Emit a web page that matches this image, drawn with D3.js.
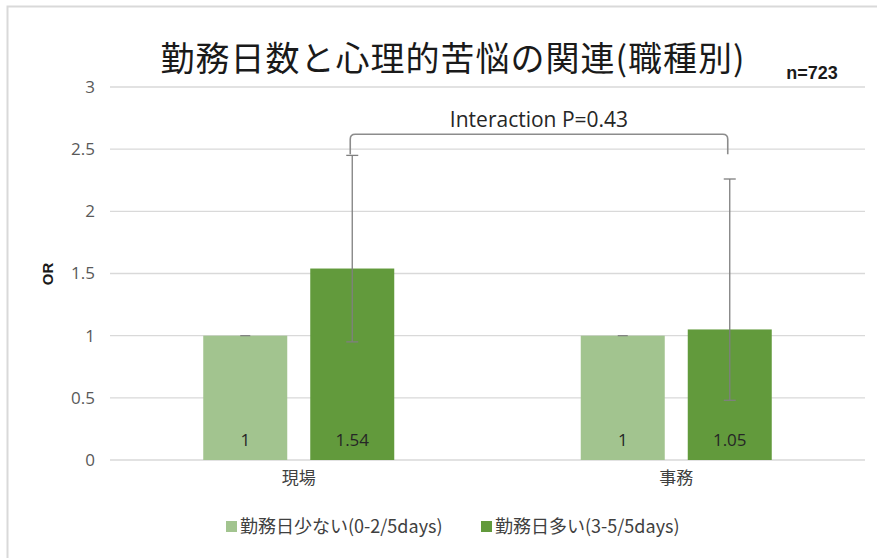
<!DOCTYPE html>
<html>
<head>
<meta charset="utf-8">
<script src="https://cdn.jsdelivr.net/npm/d3@7"></script>
<style>
  body { margin: 0; background: #fff; }
  svg { display: block; font-family: "Noto Sans CJK JP", "Noto Sans", sans-serif; }
</style>
</head>
<body>
<div class="chartShaper"></div>
<script>
// chart data
var categories = ["現場", "事務"];
var seriesNames = ["勤務日少ない(0-2/5days)", "勤務日多い(3-5/5days)"];
var orFew = [1, 1];
var orMany = [1.54, 1.05];
var ciLowMany = [0.95, 0.48];
var ciHighMany = [2.45, 2.26];
var yTicks = [0, 0.5, 1, 1.5, 2, 2.5, 3];
var colors = ["#A2C48F", "#629A3C"];

// graph dimensions
var W = 877, H = 558;
var margin = {top: 87, right: 12, bottom: 98, left: 110},
    width = 865 - margin.left,
    height = 460 - margin.top;

var svg = d3.select(".chartShaper")
            .append("svg")
            .attr("width", W)
            .attr("height", H);

// outer frame
svg.append("rect")
   .attr("x", 7.5).attr("y", 6.5)
   .attr("width", W).attr("height", H)
   .attr("fill", "none")
   .attr("stroke", "#d9d9d9")
   .attr("stroke-width", 2);

var g = svg.append("g").attr("transform", "translate(" + margin.left + "," + margin.top + ")");

// scales
var x0 = d3.scaleBand().domain(categories).range([0, width]);
var y = d3.scaleLinear().domain([0, 3]).range([height, 0]);

// gridlines
g.selectAll(".grid")
 .data(yTicks)
 .enter().append("line")
 .attr("x1", 0).attr("x2", width)
 .attr("y1", function(d) { return y(d); })
 .attr("y2", function(d) { return y(d); })
 .attr("stroke", "#d9d9d9")
 .attr("stroke-width", 1.3);

// y axis labels
var yAxis = d3.axisLeft(y).tickValues(yTicks).tickFormat(function(d) { return String(d); })
              .tickSize(0).tickPadding(15);
var ya = g.append("g").call(yAxis);
ya.select(".domain").remove();
ya.selectAll("text")
  .attr("font-family", "'Open Sans', 'Noto Sans', sans-serif")
  .attr("font-size", 17)
  .attr("fill", "#595959");

// x axis labels
var xAxis = d3.axisBottom(x0).tickSize(0).tickPadding(12);
var xa = g.append("g").attr("transform", "translate(0," + height + ")").call(xAxis);
xa.select(".domain").remove();
xa.selectAll("text")
  .attr("font-family", "'Noto Sans CJK JP', sans-serif")
  .attr("font-size", 17)
  .attr("fill", "#404040");

// bar positions inside a band
var barW = 84, gap = 23;
function barX(cat, s) {
    var c = x0(cat) + x0.bandwidth() / 2;
    return s === 0 ? c - gap / 2 - barW : c + gap / 2;
}

var series = [orFew, orMany];
series.forEach(function(vals, s) {
    g.selectAll(".bar" + s)
     .data(categories)
     .enter().append("rect")
     .attr("x", function(d) { return barX(d, s); })
     .attr("y", function(d, i) { return y(vals[i]); })
     .attr("width", barW)
     .attr("height", function(d, i) { return y(0) - y(vals[i]); })
     .attr("fill", colors[s]);

    // value labels
    g.selectAll(".lab" + s)
     .data(categories)
     .enter().append("text")
     .attr("x", function(d) { return barX(d, s) + barW / 2; })
     .attr("y", y(0) - 14)
     .attr("text-anchor", "middle")
     .attr("font-family", "'Open Sans', 'Noto Sans', sans-serif")
     .attr("font-size", 17)
     .attr("fill", "#262626")
     .text(function(d, i) { return vals[i]; });
});

// tiny caps at 1 on the reference bars
g.selectAll(".refcap")
 .data(categories)
 .enter().append("line")
 .attr("x1", function(d) { return barX(d, 0) + barW / 2 - 5; })
 .attr("x2", function(d) { return barX(d, 0) + barW / 2 + 5; })
 .attr("y1", y(1)).attr("y2", y(1))
 .attr("stroke", "#7f7f7f").attr("stroke-width", 1.2);

// error bars
var eb = g.selectAll(".err")
          .data(categories)
          .enter().append("g");
eb.append("line")
  .attr("x1", function(d) { return barX(d, 1) + barW / 2; })
  .attr("x2", function(d) { return barX(d, 1) + barW / 2; })
  .attr("y1", function(d, i) { return y(ciLowMany[i]); })
  .attr("y2", function(d, i) { return y(ciHighMany[i]); })
  .attr("stroke", "#7f7f7f").attr("stroke-width", 1.3);
[ciLowMany, ciHighMany].forEach(function(arr) {
    eb.append("line")
      .attr("x1", function(d) { return barX(d, 1) + barW / 2 - 6; })
      .attr("x2", function(d) { return barX(d, 1) + barW / 2 + 6; })
      .attr("y1", function(d, i) { return y(arr[i]); })
      .attr("y2", function(d, i) { return y(arr[i]); })
      .attr("stroke", "#7f7f7f").attr("stroke-width", 1.3);
});

// interaction bracket
var bx1 = barX(categories[0], 1) + barW / 2 - 2,
    bx2 = barX(categories[1], 1) + barW / 2 - 2,
    by = y(2.62), bEnd = y(2.46), r = 5;
g.append("path")
 .attr("d", "M" + bx1 + "," + bEnd + " L" + bx1 + "," + (by + r) +
            " Q" + bx1 + "," + by + " " + (bx1 + r) + "," + by +
            " L" + (bx2 - r) + "," + by +
            " Q" + bx2 + "," + by + " " + bx2 + "," + (by + r) +
            " L" + bx2 + "," + bEnd)
 .attr("fill", "none")
 .attr("stroke", "#8c8c8c")
 .attr("stroke-width", 1.6);

g.append("text")
 .attr("x", (bx1 + bx2) / 2)
 .attr("y", by - 7)
 .attr("text-anchor", "middle")
 .attr("font-family", "'Open Sans', 'Noto Sans', sans-serif")
 .attr("font-size", 21)
 .attr("fill", "#262626")
 .text("Interaction P=0.43");

// title
svg.append("text")
   .attr("x", 453).attr("y", 71)
   .attr("text-anchor", "middle")
   .attr("font-family", "'Noto Sans CJK JP', sans-serif")
   .attr("font-size", 34)
   .attr("letter-spacing", 1)
   .attr("fill", "#1a1a1a")
   .text("勤務日数と心理的苦悩の関連(職種別)");

svg.append("text")
   .attr("x", 812).attr("y", 79)
   .attr("text-anchor", "middle")
   .attr("font-family", "'Liberation Sans', sans-serif")
   .attr("font-weight", "bold")
   .attr("font-size", 18)
   .attr("fill", "#1a1a1a")
   .text("n=723");

// y axis title
svg.append("text")
   .attr("transform", "translate(53,274) rotate(-90)")
   .attr("text-anchor", "middle")
   .attr("font-family", "'Liberation Sans', sans-serif")
   .attr("font-weight", "bold")
   .attr("font-size", 15)
   .attr("fill", "#1a1a1a")
   .text("OR");

// legend
var legendX = [226, 481];
var leg = svg.selectAll(".legend")
             .data(seriesNames)
             .enter().append("g")
             .attr("transform", function(d, i) { return "translate(" + legendX[i] + ",527)"; });
leg.append("rect")
   .attr("x", 0).attr("y", -6)
   .attr("width", 11).attr("height", 11)
   .attr("fill", function(d, i) { return colors[i]; });
leg.append("text")
   .attr("x", 14).attr("y", 6)
   .attr("font-family", "'Noto Sans CJK JP', sans-serif")
   .attr("font-size", 18)
   .attr("fill", "#404040")
   .text(function(d) { return d; });
</script>
</body>
</html>
